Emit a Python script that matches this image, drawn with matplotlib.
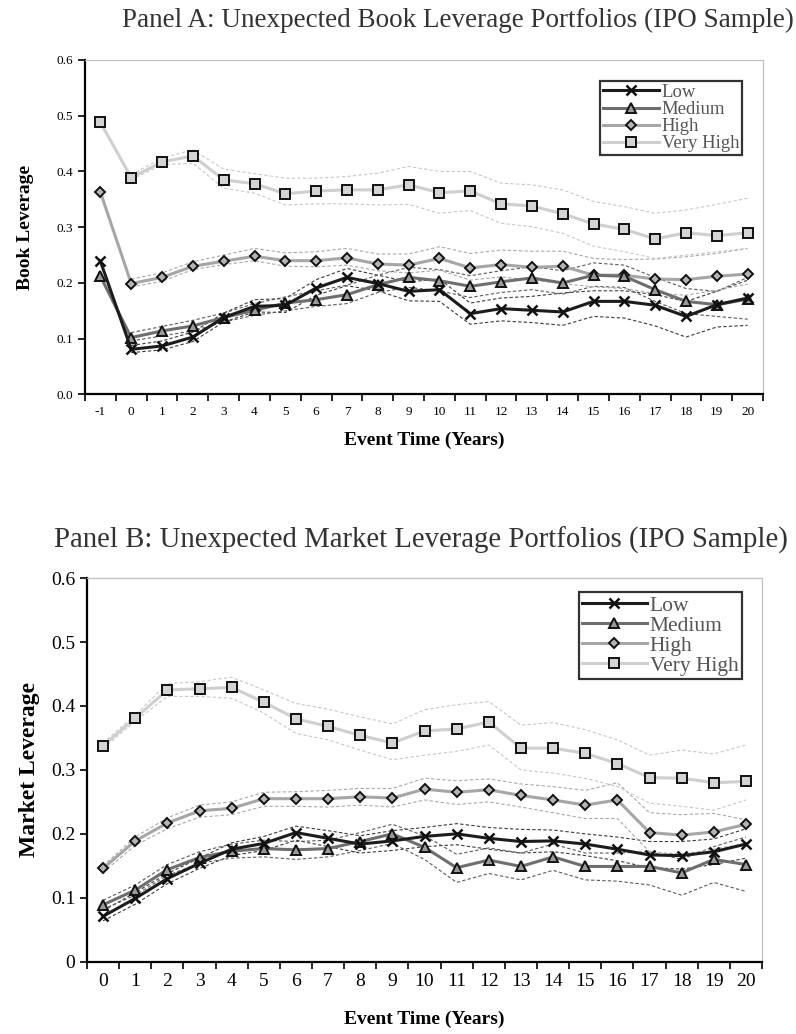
import numpy as np
import matplotlib
matplotlib.use("Agg")
import matplotlib.pyplot as plt

plt.rcParams["font.family"] = ["Liberation Serif", "DejaVu Serif"]

series_names = ["Low", "Medium", "High", "Very High"]

# Panel A: book leverage, event years -1..20
years_a = [-1, 0, 1, 2, 3, 4, 5, 6, 7, 8, 9, 10, 11, 12, 13, 14, 15, 16, 17, 18, 19, 20]
book_low = [0.239, 0.081, 0.087, 0.103, 0.138, 0.158, 0.160, 0.191, 0.210, 0.199, 0.185, 0.188,
            0.145, 0.154, 0.151, 0.148, 0.167, 0.167, 0.160, 0.140, 0.161, 0.173]
book_medium = [0.212, 0.102, 0.114, 0.123, 0.138, 0.151, 0.164, 0.170, 0.179, 0.197, 0.210, 0.204,
               0.194, 0.202, 0.209, 0.200, 0.214, 0.212, 0.188, 0.167, 0.161, 0.171]
book_high = [0.363, 0.199, 0.210, 0.230, 0.239, 0.248, 0.240, 0.240, 0.245, 0.234, 0.232, 0.244,
             0.227, 0.233, 0.228, 0.230, 0.214, 0.214, 0.207, 0.206, 0.212, 0.216]
book_vhigh = [0.488, 0.389, 0.417, 0.428, 0.385, 0.378, 0.360, 0.365, 0.367, 0.367, 0.376, 0.362,
              0.365, 0.342, 0.338, 0.324, 0.306, 0.296, 0.279, 0.290, 0.285, 0.290]

# confidence bands (dashed), none at year -1
book_low_lo = [np.nan, 0.075, 0.080, 0.095, 0.130, 0.148, 0.147, 0.178, 0.195, 0.186, 0.168, 0.167,
               0.126, 0.132, 0.129, 0.124, 0.140, 0.137, 0.123, 0.103, 0.121, 0.124]
book_low_hi = [np.nan, 0.088, 0.096, 0.112, 0.146, 0.170, 0.172, 0.206, 0.226, 0.214, 0.202, 0.207,
               0.164, 0.173, 0.176, 0.182, 0.186, 0.186, 0.179, 0.167, 0.185, 0.205]
book_med_lo = [np.nan, 0.096, 0.105, 0.114, 0.130, 0.142, 0.150, 0.158, 0.163, 0.183, 0.192, 0.186,
               0.174, 0.183, 0.188, 0.180, 0.194, 0.192, 0.167, 0.145, 0.140, 0.135]
book_med_hi = [np.nan, 0.111, 0.122, 0.133, 0.146, 0.163, 0.175, 0.186, 0.196, 0.214, 0.228, 0.224,
               0.213, 0.222, 0.229, 0.222, 0.236, 0.232, 0.210, 0.190, 0.185, 0.210]
book_high_lo = [np.nan, 0.193, 0.203, 0.224, 0.233, 0.240, 0.230, 0.229, 0.232, 0.222, 0.218, 0.223,
                0.205, 0.211, 0.205, 0.199, 0.193, 0.190, 0.181, 0.178, 0.187, 0.198]
book_high_hi = [np.nan, 0.207, 0.218, 0.238, 0.250, 0.262, 0.254, 0.256, 0.262, 0.252, 0.252, 0.265,
                0.253, 0.259, 0.257, 0.257, 0.244, 0.242, 0.243, 0.247, 0.253, 0.262]
book_vhigh_lo = [np.nan, 0.385, 0.412, 0.415, 0.370, 0.361, 0.340, 0.342, 0.342, 0.340, 0.341, 0.325,
                 0.330, 0.307, 0.301, 0.289, 0.266, 0.256, 0.244, 0.250, 0.256, 0.262]
book_vhigh_hi = [np.nan, 0.394, 0.424, 0.439, 0.404, 0.396, 0.388, 0.388, 0.391, 0.397, 0.409, 0.400,
                 0.400, 0.379, 0.376, 0.367, 0.346, 0.337, 0.325, 0.331, 0.341, 0.352]

# Panel B: market leverage, event years 0..20
years_b = [0, 1, 2, 3, 4, 5, 6, 7, 8, 9, 10, 11, 12, 13, 14, 15, 16, 17, 18, 19, 20]
mkt_low = [0.071, 0.099, 0.130, 0.154, 0.176, 0.185, 0.202, 0.193, 0.184, 0.189, 0.196,
           0.200, 0.193, 0.188, 0.189, 0.184, 0.176, 0.167, 0.166, 0.172, 0.184]
mkt_medium = [0.089, 0.112, 0.144, 0.163, 0.173, 0.177, 0.175, 0.177, 0.188, 0.200, 0.179,
              0.147, 0.159, 0.149, 0.164, 0.149, 0.149, 0.149, 0.139, 0.160, 0.152]
mkt_high = [0.146, 0.189, 0.217, 0.236, 0.240, 0.255, 0.255, 0.255, 0.258, 0.256, 0.270,
            0.265, 0.269, 0.260, 0.253, 0.245, 0.253, 0.202, 0.198, 0.203, 0.215]
mkt_vhigh = [0.338, 0.381, 0.425, 0.427, 0.429, 0.406, 0.380, 0.368, 0.354, 0.342, 0.361,
             0.364, 0.375, 0.334, 0.334, 0.326, 0.310, 0.288, 0.287, 0.280, 0.282]

mkt_low_lo = [0.064, 0.090, 0.122, 0.146, 0.166, 0.174, 0.190, 0.180, 0.170, 0.174, 0.180,
              0.183, 0.176, 0.170, 0.172, 0.166, 0.158, 0.147, 0.145, 0.152, 0.162]
mkt_low_hi = [0.080, 0.108, 0.138, 0.162, 0.186, 0.196, 0.212, 0.205, 0.197, 0.205, 0.210,
              0.216, 0.210, 0.207, 0.206, 0.200, 0.195, 0.188, 0.188, 0.192, 0.208]
mkt_med_lo = [0.082, 0.104, 0.135, 0.154, 0.162, 0.164, 0.160, 0.164, 0.174, 0.185, 0.160,
              0.124, 0.138, 0.128, 0.143, 0.128, 0.126, 0.120, 0.104, 0.124, 0.110]
mkt_med_hi = [0.096, 0.120, 0.152, 0.172, 0.184, 0.190, 0.188, 0.190, 0.202, 0.215, 0.197,
              0.168, 0.178, 0.170, 0.184, 0.170, 0.170, 0.172, 0.160, 0.180, 0.195]
mkt_high_lo = [0.140, 0.182, 0.208, 0.226, 0.230, 0.243, 0.243, 0.242, 0.245, 0.242, 0.253,
               0.246, 0.250, 0.242, 0.233, 0.224, 0.224, 0.172, 0.168, 0.176, 0.185]
mkt_high_hi = [0.150, 0.195, 0.225, 0.245, 0.250, 0.265, 0.266, 0.268, 0.271, 0.271, 0.287,
               0.283, 0.286, 0.278, 0.274, 0.268, 0.280, 0.233, 0.230, 0.232, 0.222]
mkt_vhigh_lo = [0.334, 0.376, 0.415, 0.415, 0.412, 0.389, 0.357, 0.347, 0.331, 0.316, 0.323,
                0.329, 0.339, 0.300, 0.295, 0.287, 0.274, 0.248, 0.243, 0.237, 0.253]
mkt_vhigh_hi = [0.342, 0.386, 0.435, 0.438, 0.445, 0.425, 0.404, 0.395, 0.383, 0.372, 0.394,
                0.402, 0.407, 0.370, 0.374, 0.363, 0.347, 0.323, 0.331, 0.325, 0.339]

line_colors = ["#1c1c1c", "#6e6e6e", "#a6a6a6", "#cfcfcf"]
band_colors = ["#3a3a3a", "#5a5a5a", "#a8a8a8", "#c8c8c8"]
markers = ["x", "^", "D", "s"]
marker_faces = ["#1c1c1c", "#9a9a9a", "#b4b4b4", "#d4d4d4"]
marker_sizes = [7, 7, 5.5, 7]


def draw_panel(ax, years, means, bands, ylabel, ytick_fmt, fs_tick, fs_label, fs_leg,
               ylabelpad, xlabelpad, leg_anchor):
    x = np.arange(len(years))
    # dashed bands first so solid lines sit on top
    for (lo, hi), col in zip(bands, band_colors):
        ax.plot(x, lo, ls=(0, (3, 2)), lw=0.8, color=col, zorder=2)
        ax.plot(x, hi, ls=(0, (3, 2)), lw=0.8, color=col, zorder=2)
    handles = []
    for i, vals in enumerate(means):
        ln, = ax.plot(x, vals, color=line_colors[i], lw=2.2, marker=markers[i],
                      ms=marker_sizes[i], mfc=marker_faces[i], mec="#111111",
                      mew=1.4 if markers[i] != "x" else 1.8, zorder=5 - i * 0.1,
                      label=series_names[i])
        handles.append(ln)

    ax.set_xlim(-0.5, len(years) - 0.5)
    ax.set_ylim(0, 0.6)
    ax.set_xticks(x)
    ax.set_xticklabels([str(y) for y in years], fontsize=fs_tick)
    ax.set_xticks(np.arange(len(years) + 1) - 0.5, minor=True)
    ax.tick_params(axis="x", which="major", length=0, pad=8)
    ax.tick_params(axis="x", which="minor", length=5, width=1.2, direction="out")
    ax.set_yticks(np.arange(0, 0.61, 0.1))
    ax.set_yticklabels([ytick_fmt(v) for v in np.arange(0, 0.61, 0.1)], fontsize=fs_tick)
    ax.tick_params(axis="y", length=5, width=1.2, direction="out")

    for side in ["top", "right"]:
        ax.spines[side].set_color("#c0c0c0")
        ax.spines[side].set_linewidth(0.9)
    for side in ["left", "bottom"]:
        ax.spines[side].set_color("black")
        ax.spines[side].set_linewidth(1.6)

    ax.set_xlabel("Event Time (Years)", fontsize=fs_label, fontweight="bold", labelpad=xlabelpad)
    ax.set_ylabel(ylabel, fontsize=fs_label, fontweight="bold", labelpad=ylabelpad)

    leg = ax.legend(handles=handles, loc="upper right", bbox_to_anchor=leg_anchor,
                    fontsize=fs_leg, frameon=True, fancybox=False, handlelength=3.0,
                    handletextpad=0.15, borderpad=0.15, labelspacing=0.0,
                    borderaxespad=0)
    leg.get_frame().set_edgecolor("black")
    leg.get_frame().set_linewidth(1.6)
    for t in leg.get_texts():
        t.set_color("#555555")


fig = plt.figure(figsize=(7.96, 10.34), dpi=100)

ax_a = fig.add_axes([0.1068, 0.6185, 0.8518, 0.3235])
draw_panel(ax_a, years_a, [book_low, book_medium, book_high, book_vhigh],
           [(book_low_lo, book_low_hi), (book_med_lo, book_med_hi),
            (book_high_lo, book_high_hi), (book_vhigh_lo, book_vhigh_hi)],
           "Book Leverage", lambda v: f"{v:.1f}", 9.5, 14, 13.5, 16, 10, (0.969, 0.937))

ax_b = fig.add_axes([0.1093, 0.0699, 0.848, 0.371])
draw_panel(ax_b, years_b, [mkt_low, mkt_medium, mkt_high, mkt_vhigh],
           [(mkt_low_lo, mkt_low_hi), (mkt_med_lo, mkt_med_hi),
            (mkt_high_lo, mkt_high_hi), (mkt_vhigh_lo, mkt_vhigh_hi)],
           "Market Leverage", lambda v: "0" if v < 1e-9 else f"{v:.1f}", 14, 14, 15.5,
           8, 15, (0.970, 0.963))
ax_b.yaxis.label.set_size(17)

fig.text(0.575, 0.980, "Panel A: Unexpected Book Leverage Portfolios (IPO Sample)",
         ha="center", va="center", fontsize=19.5, color="#333333")
fig.text(0.068, 0.477, "Panel B: Unexpected Market Leverage Portfolios (IPO Sample)",
         ha="left", va="center", fontsize=20.7, color="#333333")

fig.savefig("out.png", dpi=100)
